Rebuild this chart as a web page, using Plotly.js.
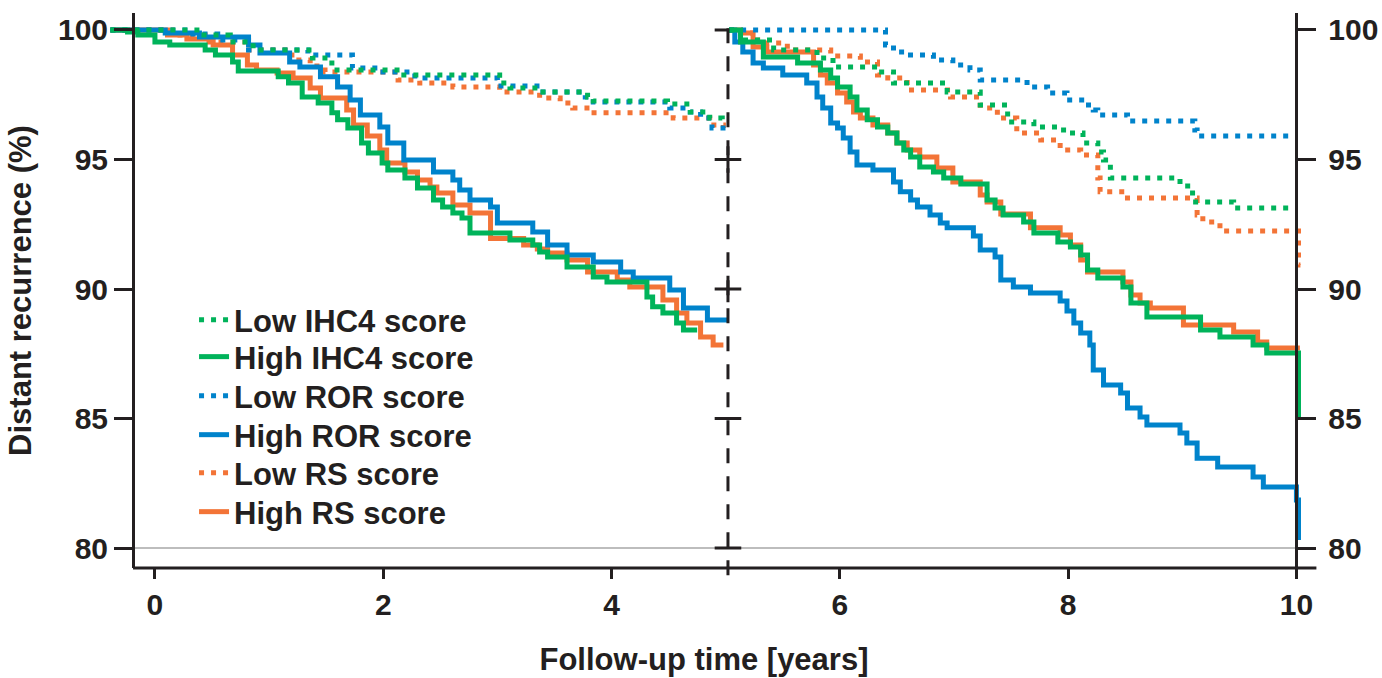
<!DOCTYPE html>
<html><head><meta charset="utf-8">
<script src="https://cdn.plot.ly/plotly-3.0.1.min.js"></script>
<style>html,body{margin:0;padding:0;background:#fff}#chart{width:1382px;height:678px}</style>
</head><body><div id="chart"></div>
<script>
// ---- Data: years 0-5 (left axis) ----
const t_highIHC4_a = [-0.39,-0.24,-0.15,0.00,0.13,0.44,0.53,0.68,0.73,1.08,1.17,1.29,1.43,1.55,1.60,1.69,1.81,1.87,1.99,2.04,2.19,2.30,2.44,2.52,2.61,2.69,2.76,3.11,3.31,3.37,3.44,3.61,3.84,3.96,4.31,4.36,4.45,4.57,4.63,4.75];
const s_highIHC4_a = [100,99.92,99.81,99.54,99.42,99.23,99.03,98.76,98.42,98.19,97.95,97.41,97.18,96.80,96.53,96.22,95.64,95.25,94.86,94.59,94.29,93.90,93.44,93.17,92.93,92.74,92.16,91.89,91.70,91.43,91.24,90.85,90.46,90.27,89.69,89.31,89.07,88.69,88.42,88.42];
const t_highRS_a = [-0.39,0.11,0.28,0.51,0.68,0.81,0.89,1.07,1.21,1.36,1.45,1.68,1.74,1.86,1.97,2.03,2.19,2.30,2.41,2.47,2.61,2.76,2.94,3.23,3.35,3.44,3.61,3.79,4.05,4.16,4.45,4.57,4.66,4.78,4.89,4.98];
const s_highRS_a = [100,99.81,99.65,99.42,99.03,98.65,98.46,98.34,98.15,97.76,97.37,96.91,96.33,95.91,95.37,94.86,94.52,94.21,93.94,93.71,93.24,92.93,91.95,91.70,91.54,91.39,91.12,90.66,90.35,90.08,89.58,89.07,88.69,88.15,87.84,87.84];
const t_highROR_a = [-0.39,0.09,0.39,0.82,0.92,1.18,1.27,1.45,1.60,1.71,1.80,1.97,2.04,2.18,2.44,2.61,2.67,2.76,2.94,3.00,3.31,3.44,3.61,3.84,4.08,4.19,4.51,4.63,4.84,5.02];
const s_highROR_a = [100,99.88,99.73,99.42,99.11,98.76,98.57,98.19,97.80,97.30,96.72,96.25,95.64,94.98,94.52,94.21,93.82,93.44,93.17,92.55,92.20,91.70,91.31,91.04,90.66,90.42,89.96,89.27,88.80,88.80];
const t_lowROR_a = [-0.39,0.29,0.55,0.82,1.34,1.73,1.97,2.23,2.32,3.00,3.37,3.77,3.84,4.51,4.69,4.78,4.88,5.01];
const s_lowROR_a = [100,99.85,99.61,99.23,99.03,98.53,98.38,98.22,98.15,97.84,97.61,97.41,97.22,96.99,96.83,96.60,96.22,96.14];
const t_lowIHC4_a = [-0.39,0.39,0.66,0.86,1.38,1.55,2.15,3.02,3.11,3.37,3.79,3.84,4.49,4.69,4.86,4.97];
const s_lowIHC4_a = [100,99.81,99.54,99.23,98.92,98.46,98.26,97.95,97.76,97.61,97.41,97.26,97.14,96.83,96.60,96.53];
const t_lowRS_a = [-0.39,0.15,0.44,0.79,1.20,1.36,1.49,2.13,2.32,2.61,3.02,3.37,3.55,3.66,3.81,4.54,4.86,4.98];
const s_lowRS_a = [100,99.81,99.54,99.23,98.84,98.61,98.38,98.07,97.95,97.80,97.61,97.37,97.18,96.99,96.80,96.60,96.33,96.22];

// ---- Data: years 5-10, conditional (right axis) ----
const t_highROR_b = [5.03,5.08,5.15,5.24,5.33,5.50,5.71,5.80,5.85,5.92,5.98,6.03,6.09,6.15,6.29,6.47,6.53,6.62,6.68,6.79,6.88,6.94,7.17,7.23,7.36,7.41,7.52,7.67,7.93,7.99,8.05,8.11,8.19,8.22,8.31,8.46,8.52,8.63,8.69,8.98,9.04,9.13,9.31,9.62,9.71,10.00,10.035];
const s_highROR_b = [100,99.54,99.15,98.73,98.53,98.26,97.95,97.41,96.99,96.41,96.22,95.83,95.29,94.79,94.59,94.13,93.75,93.44,93.17,92.86,92.55,92.36,92.05,91.51,91.24,90.35,90.08,89.85,89.54,89.15,88.69,88.30,87.84,86.87,86.29,85.98,85.41,85.06,84.75,84.44,84.05,83.47,83.13,82.74,82.36,81.85,80.31];
const t_highIHC4_b = [5.03,5.13,5.33,5.63,5.83,5.92,5.98,6.09,6.15,6.24,6.33,6.42,6.50,6.56,6.62,6.70,6.82,6.91,7.06,7.29,7.36,7.43,7.61,7.70,7.91,8.02,8.11,8.17,8.26,8.48,8.55,8.69,9.16,9.33,9.62,9.74,10.02,10.035];
const s_highIHC4_b = [100,99.54,98.96,98.73,98.46,98.15,97.80,97.41,96.91,96.53,96.25,96.02,95.64,95.37,95.10,94.71,94.52,94.29,94.05,93.44,93.13,92.86,92.59,92.16,91.81,91.62,91.31,90.73,90.42,90.08,89.46,88.92,88.42,88.15,87.84,87.53,85.06,85.06];
const t_highRS_b = [5.03,5.13,5.24,5.36,5.77,5.83,5.89,5.98,6.06,6.12,6.18,6.29,6.42,6.50,6.59,6.70,6.85,6.99,7.23,7.29,7.41,7.67,7.93,8.02,8.11,8.17,8.48,8.55,8.63,8.72,9.01,9.45,9.66,9.74,10.03];
const s_highRS_b = [100,99.88,99.34,99.15,98.65,98.26,97.95,97.57,97.22,96.83,96.60,96.33,96.02,95.64,95.37,95.10,94.67,94.13,93.63,93.36,92.90,92.36,92.08,91.70,91.12,90.66,90.27,89.77,89.46,89.27,88.61,88.34,87.95,87.72,87.72];
const t_lowROR_b = [5.03,6.40,6.47,6.59,6.82,6.99,7.14,7.23,7.64,7.82,7.99,8.15,8.22,8.26,8.52,9.11,9.13,10.01];
const s_lowROR_b = [100,99.42,99.15,99.03,98.84,98.65,98.46,98.07,97.80,97.57,97.30,97.10,96.91,96.72,96.49,96.14,95.91,95.91];
const t_lowIHC4_b = [5.03,5.13,5.42,5.80,5.94,6.33,6.47,6.94,7.23,7.47,7.70,7.96,8.13,8.26,8.31,8.37,8.98,9.09,9.45,10.01];
const s_lowIHC4_b = [100,99.61,99.23,98.92,98.57,98.38,97.95,97.61,97.10,96.45,96.25,96.02,95.64,95.29,94.98,94.29,93.98,93.36,93.13,93.13];
const t_lowRS_b = [5.03,5.13,5.28,5.54,5.92,6.18,6.33,6.42,6.59,6.97,7.23,7.38,7.55,7.76,7.93,8.11,8.26,8.28,8.52,9.13,9.18,9.33,10.02,10.035];
const s_lowRS_b = [100,99.88,99.50,99.23,99.00,98.76,98.26,98.15,97.68,97.41,96.99,96.60,96.02,95.75,95.37,95.17,94.29,93.75,93.51,92.86,92.59,92.24,90.93,90.93];

// landmark marks on the 5-year line
const landmarkTime = 5.02;
const landmarkLevels = [100, 95, 90, 85, 80];

const yTicks = [80, 85, 90, 95, 100];
const xTicks = [0, 2, 4, 6, 8, 10];

const INK = '#231f20';
const GREEN = '#00B35A', BLUE = '#0083CB', ORANGE = '#F37437';
const FONT = '"Liberation Sans", Arial, Helvetica, sans-serif';

function km(t, s, color, dotted, yax, name, legendId, show) {
  return {
    type: 'scatter', mode: 'lines', x: t, y: s, yaxis: yax,
    name: name, legend: legendId, legendgroup: name, showlegend: show,
    line: {shape: 'hv', color: color, width: 5, dash: dotted ? '5px,7px' : 'solid'},
    hoverinfo: 'skip'
  };
}

const traces = [
  km(t_lowRS_a, s_lowRS_a, ORANGE, true, 'y', 'Low RS score', 'legend5', true),
  km(t_highRS_a, s_highRS_a, ORANGE, false, 'y', 'High RS score', 'legend6', true),
  km(t_lowROR_a, s_lowROR_a, BLUE, true, 'y', 'Low ROR score', 'legend3', true),
  km(t_highROR_a, s_highROR_a, BLUE, false, 'y', 'High ROR score', 'legend4', true),
  km(t_lowIHC4_a, s_lowIHC4_a, GREEN, true, 'y', 'Low IHC4 score', 'legend', true),
  km(t_highIHC4_a, s_highIHC4_a, GREEN, false, 'y', 'High IHC4 score', 'legend2', true),
  km(t_lowRS_b, s_lowRS_b, ORANGE, true, 'y2', 'Low RS score', 'legend5', false),
  km(t_highRS_b, s_highRS_b, ORANGE, false, 'y2', 'High RS score', 'legend6', false),
  km(t_lowROR_b, s_lowROR_b, BLUE, true, 'y2', 'Low ROR score', 'legend3', false),
  km(t_highROR_b, s_highROR_b, BLUE, false, 'y2', 'High ROR score', 'legend4', false),
  km(t_lowIHC4_b, s_lowIHC4_b, GREEN, true, 'y2', 'Low IHC4 score', 'legend', false),
  km(t_highIHC4_b, s_highIHC4_b, GREEN, false, 'y2', 'High IHC4 score', 'legend2', false),
  {
    type: 'scatter', mode: 'markers', x: landmarkLevels.map(() => landmarkTime), y: landmarkLevels,
    showlegend: false, hoverinfo: 'skip', cliponaxis: false,
    marker: {symbol: ['line-ew-open','cross-thin-open','cross-thin-open','line-ew-open','line-ew-open'],
             size: 19, color: INK, line: {color: INK, width: 3}}
  }
];

const tickFont = {family: FONT, size: 30, color: INK, weight: 'bold'};
const titleFont = {family: FONT, size: 31, color: INK, weight: 'bold'};
const yRange = [79.228, 100.656];

function leg(y) {
  return {x: 0.0729, y: y, xanchor: 'left', yanchor: 'middle', bgcolor: 'rgba(0,0,0,0)',
          borderwidth: 0, font: {family: FONT, size: 31, color: INK, weight: 'bold'}};
}

const layout = {
  width: 1382, height: 678,
  margin: {l: 107, r: 81, t: 13, b: 110, autoexpand: false},
  paper_bgcolor: '#ffffff', plot_bgcolor: '#ffffff',
  font: {family: FONT, color: INK},
  showlegend: true,
  xaxis: {
    range: [-0.42, 10.04], tickvals: xTicks, ticks: 'outside', ticklen: 10, tickwidth: 3, tickcolor: INK,
    showline: false, showgrid: false, zeroline: false, tickfont: tickFont,
    title: {text: 'Follow-up time [years]', font: titleFont, standoff: 28}
  },
  yaxis: {
    range: yRange, anchor: 'free', position: 0.0218, side: 'left',
    tickvals: yTicks, ticks: 'outside', ticklen: 18, tickwidth: 3, tickcolor: INK,
    showline: true, linewidth: 3, linecolor: INK, showgrid: false, zeroline: false,
    tickfont: tickFont,
    title: {text: 'Distant recurrence (%)', font: titleFont, standoff: 16}
  },
  yaxis2: {
    range: yRange, overlaying: 'y', anchor: 'free', position: 0.9961, side: 'right',
    tickvals: yTicks, ticks: 'outside', ticklen: 18, tickwidth: 3, tickcolor: INK,
    showline: true, linewidth: 3, linecolor: INK, showgrid: false, zeroline: false,
    tickfont: tickFont, ticklabelstandoff: 6
  },
  shapes: [
    {type: 'line', xref: 'paper', yref: 'y', x0: 0.0218, x1: 0.9961, y0: 80, y1: 80,
     line: {color: '#bdbdbd', width: 2}, layer: 'below'},
    {type: 'line', xref: 'paper', yref: 'paper', x0: 0.0218, x1: 1.0129, y0: 0, y1: 0,
     line: {color: INK, width: 3}},
    {type: 'line', xref: 'x', yref: 'paper', x0: landmarkTime, x1: landmarkTime, y0: -0.013, y1: 0.975,
     line: {color: INK, width: 3, dash: '15px,13px'}}
  ],
  legend: leg(0.4468),
  legend2: leg(0.3802),
  legend3: leg(0.3099),
  legend4: leg(0.2396),
  legend5: leg(0.1712),
  legend6: leg(0.1009)
};

Plotly.newPlot('chart', traces, layout, {staticPlot: true, displayModeBar: false});
</script>
</body></html>
